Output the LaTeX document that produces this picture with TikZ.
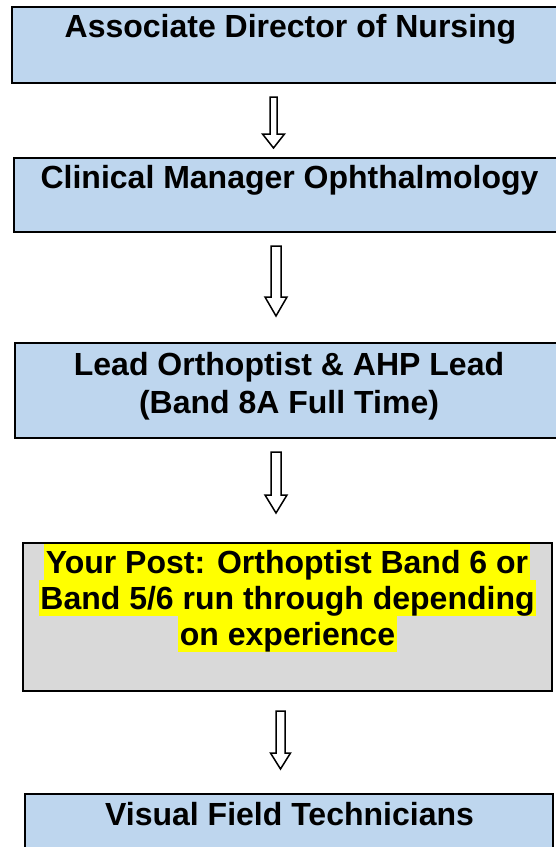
\documentclass[tikz,border=0pt]{standalone}
\usepackage{fontspec}
\setmainfont{Liberation Sans}
\definecolor{boxblue}{RGB}{190,214,238}
\definecolor{boxgrey}{RGB}{217,217,217}
\definecolor{mark}{RGB}{255,255,0}
\tikzset{
  box/.style={draw=black, line width=2.6pt, rectangle, anchor=north west, inner sep=0pt, outer sep=0pt},
  bluebox/.style={box, fill=boxblue},
  greybox/.style={box, fill=boxgrey},
  title/.style={anchor=base, inner sep=0pt, font=\fontsize{32}{38}\selectfont\bfseries},
  marked/.style={title, fill=mark, inner xsep=1.5pt, text height=29pt, text depth=7pt},
  arrowline/.style={draw=black, line width=1.5pt, fill=white, line join=miter}
}
% hollow block arrow: centre x, top, neck, tip, half shaft width, half head width
\newcommand\blockarrow[6]{%
  \draw[arrowline] (#1-#5,#2) -- (#1+#5,#2) -- (#1+#5,#3) -- (#1+#6,#3)
    -- (#1,#4) -- (#1-#6,#3) -- (#1-#5,#3) -- cycle;}
\begin{document}
\begin{tikzpicture}[x=1pt, y=-1pt]
\useasboundingbox (0,0) rectangle (556,847);

% chain of posts
\node[bluebox, minimum width=557pt, minimum height=76pt] (adn) at (12,7) {};
\node[title] (adnT) at (290.5,37) {Associate Director of Nursing};

\node[bluebox, minimum width=551pt, minimum height=74pt] (cmo) at (14,158) {};
\node[title] (cmoT) at (289.5,188) {Clinical Manager Ophthalmology};

\node[bluebox, minimum width=548pt, minimum height=95pt] (lead) at (15,343) {};
\node[title] (leadT1) at (289,375) {Lead Orthoptist \& AHP Lead};
\node[title] (leadT2) at (289,413) {(Band 8A Full Time)};

\node[greybox, minimum width=529pt, minimum height=148pt] (post) at (23,543) {};
\node[marked] (postT1) at (287,573) {Your Post: Orthoptist Band 6 or};
\node[marked] (postT2) at (287.5,609) {Band 5/6 run through depending};
\node[marked] (postT3) at (287.5,645) {on experience};

\node[bluebox, minimum width=528pt, minimum height=90pt] (vft) at (25,794) {};
\node[title] (vftT) at (289.5,825) {Visual Field Technicians};

% reporting arrows
\blockarrow{273.5}{97}{134}{148}{3.5}{11}
\blockarrow{276}{246}{297}{316}{5}{11}
\blockarrow{276}{452}{495}{513}{5}{11}
\blockarrow{280.5}{711}{753}{769}{4.5}{10}
\end{tikzpicture}
\end{document}
